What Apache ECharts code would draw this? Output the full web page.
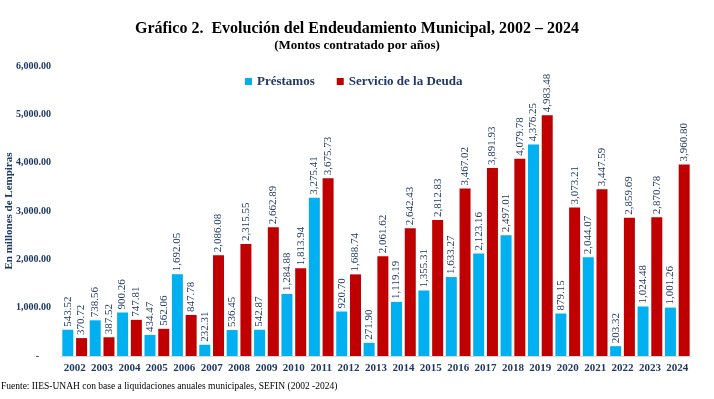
<!DOCTYPE html>
<html>
<head>
<meta charset="utf-8">
<script src="https://cdn.jsdelivr.net/npm/echarts@6/dist/echarts.min.js"></script>
<style>
  html, body { margin: 0; padding: 0; background: #fff; }
  #chart { width: 714px; height: 399px; }
</style>
</head>
<body>
<div id="chart"></div>
<script>
const years = ['2002', '2003', '2004', '2005', '2006', '2007', '2008', '2009', '2010', '2011', '2012',
  '2013', '2014', '2015', '2016', '2017', '2018', '2019', '2020', '2021', '2022', '2023', '2024']
const prestamos = [543.52, 738.56, 900.26, 434.47, 1692.05, 232.31, 536.45, 542.87, 1284.88, 3275.41, 920.70,
  271.90, 1119.19, 1355.31, 1633.27, 2123.16, 2497.01, 4376.25, 879.15, 2044.07, 203.32, 1024.48, 1001.26]
const servicioDeuda = [370.72, 387.52, 747.81, 562.06, 847.78, 2086.08, 2315.55, 2662.89, 1813.94, 3675.73, 1688.74,
  2061.62, 2642.43, 2812.83, 3467.02, 3891.93, 4079.78, 4983.48, 3073.21, 3447.59, 2859.69, 2870.78, 3960.80]

const navy = '#1F3864'
const serif = '"Liberation Serif", "Times New Roman", serif'

const fmt = v => v.toLocaleString('en-US', { minimumFractionDigits: 2, maximumFractionDigits: 2 })

const barLabel = {
  show: true,
  position: 'top',
  rotate: 90,
  align: 'left',
  verticalAlign: 'middle',
  distance: 3,
  color: navy,
  fontFamily: serif,
  fontSize: 11,
  formatter: p => fmt(p.value)
}

const chart = echarts.init(document.getElementById('chart'))
chart.setOption({
  animation: false,
  backgroundColor: '#fff',
  title: [
    {
      text: 'Gráfico 2.  Evolución del Endeudamiento Municipal, 2002 – 2024',
      left: 'center',
      top: 21,
      padding: 0,
      textStyle: { fontFamily: serif, fontSize: 16, fontWeight: 'bold', color: '#000' }
    },
    {
      text: '(Montos contratado por años)',
      left: 'center',
      top: 39,
      padding: 0,
      textStyle: { fontFamily: serif, fontSize: 13, fontWeight: 'bold', color: '#000' }
    },
    {
      text: 'Fuente: IIES-UNAH con base a liquidaciones anuales municipales, SEFIN (2002 -2024)',
      left: 1,
      top: 381,
      padding: 0,
      textStyle: { fontFamily: serif, fontSize: 9.5, fontWeight: 'normal', color: '#000' }
    }
  ],
  legend: {
    data: ['Préstamos', 'Servicio de la Deuda'],
    left: 240,
    top: 70,
    itemWidth: 7,
    itemHeight: 7,
    itemGap: 22,
    icon: 'rect',
    textStyle: { fontFamily: serif, fontSize: 13, fontWeight: 'bold', color: navy }
  },
  grid: {
    left: 61,
    right: 23,
    top: 66,
    bottom: 43,
    outerBoundsMode: 'none'
  },
  xAxis: {
    type: 'category',
    data: years,
    axisTick: { show: false },
    axisLine: { lineStyle: { color: '#d9d9d9' } },
    axisLabel: { interval: 0, fontFamily: serif, fontSize: 11, fontWeight: 'bold', color: navy, margin: 7 }
  },
  yAxis: {
    type: 'value',
    min: 0,
    max: 6000,
    interval: 1000,
    name: 'En millones de Lempiras',
    nameLocation: 'middle',
    nameGap: 46,
    nameMoveOverlap: false,
    nameTextStyle: { fontFamily: serif, fontSize: 11, fontWeight: 'bold', color: navy },
    splitLine: { show: false },
    axisLine: { show: false },
    axisTick: { show: false },
    axisLabel: {
      fontFamily: serif,
      fontSize: 10,
      fontWeight: 'bold',
      color: navy,
      margin: 10,
      formatter: v => (v === 0 ? '{z|-}' : fmt(v)),
      rich: { z: { fontFamily: serif, fontSize: 10, fontWeight: 'bold', color: navy, padding: [0, 12, 0, 0] } }
    }
  },
  series: [
    {
      name: 'Préstamos',
      type: 'bar',
      data: prestamos,
      barWidth: 11,
      barGap: '25%',
      itemStyle: { color: '#00B0F0' },
      label: barLabel
    },
    {
      name: 'Servicio de la Deuda',
      type: 'bar',
      data: servicioDeuda,
      barWidth: 11,
      itemStyle: { color: '#C00000' },
      label: barLabel
    }
  ]
})
</script>
</body>
</html>
